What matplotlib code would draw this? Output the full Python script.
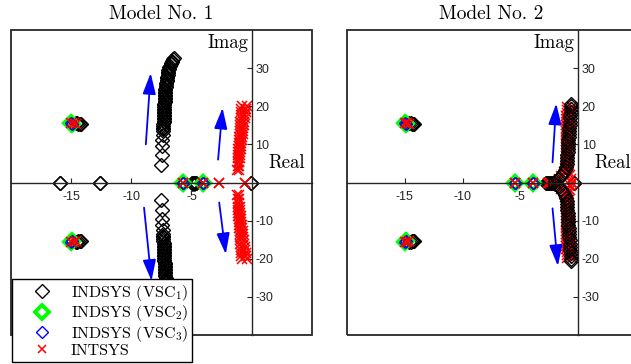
import matplotlib
matplotlib.use("Agg")
import matplotlib.pyplot as plt
from matplotlib.patches import Rectangle, FancyArrowPatch
from matplotlib.lines import Line2D

plt.rcParams['mathtext.fontset'] = 'cm'
plt.rcParams['axes.unicode_minus'] = False

# ---------------- data (upper half plane; conjugates are mirrored) ----------------
titles = ["Model No. 1", "Model No. 2"]
series_labels = [r"INDSYS (VSC$_1$)", r"INDSYS (VSC$_2$)", r"INDSYS (VSC$_3$)", "INTSYS"]
xtick_vals = [-15, -10, -5]
xtick_labels = ["-15", "-10", "-5"]
ytick_vals = [-30, -20, -10, 10, 20, 30]
ytick_labels = ["-30", "-20", "-10", "10", "20", "30"]

# ---- Model 1 ----
m1_vsc1_re = [-15.9, -12.6, -0.1, -5.0, -4.8, -4.6,
              -14.6, -14.5, -14.4, -14.3, -14.2]
m1_vsc1_im = [0, 0, 0, 0, 0, 0,
              15.5, 15.5, 15.4, 15.4, 15.3]
m1_vsc1_br_im = [4.5, 7.3, 9.5, 11.2, 12.4, 13.4, 14.0, 14.4, 14.9, 15.3, 15.8, 16.2, 16.6,
                 17.0, 17.4, 17.8, 18.2, 18.6, 19.0, 19.4, 19.8, 20.2, 20.6, 21.0, 21.4,
                 21.8, 22.2, 22.6, 23.0, 23.4, 23.8, 24.2, 24.6, 25.0, 25.4, 25.8, 26.2,
                 26.6, 27.0, 27.4, 27.8, 28.2, 28.6, 29.0, 29.4, 29.8, 30.2, 30.6, 31.0,
                 31.3, 31.7, 32.0, 32.3, 32.6]
m1_vsc1_br_re = [-7.55, -7.5, -7.45, -7.42, -7.4, -7.38, -7.37, -7.36, -7.35, -7.34, -7.33,
                 -7.32, -7.31, -7.3, -7.3, -7.29, -7.29, -7.28, -7.28, -7.27, -7.27, -7.26,
                 -7.26, -7.25, -7.25, -7.24, -7.23, -7.22, -7.21, -7.2, -7.19, -7.18, -7.17,
                 -7.15, -7.14, -7.12, -7.1, -7.08, -7.06, -7.04, -7.02, -7.0, -6.98, -6.95,
                 -6.92, -6.88, -6.84, -6.8, -6.75, -6.7, -6.65, -6.6, -6.55, -6.5]
m1_vsc2_re = [-15.0, -14.9, -5.7, -4.05]
m1_vsc2_im = [15.5, 15.4, 0, 0]
m1_vsc3_re = [-15.0, -14.9, -5.7, -4.05]
m1_vsc3_im = [15.5, 15.4, 0, 0]
m1_int_re = [-15.0, -14.8, -14.6, -5.7, -4.05, -2.75, -0.6]
m1_int_im = [15.5, 15.5, 15.4, 0, 0, 0, 0]
m1_int_br_im = [3.2, 4.4, 5.5, 6.4, 7.2, 8.0, 8.8, 9.6, 10.4, 11.2, 12.0, 12.8, 13.6, 14.4,
                15.2, 16.0, 16.8, 17.6, 18.4, 19.2, 20.0]
m1_int_brA_re = [-1.2, -1.18, -1.16, -1.15, -1.14, -1.13, -1.12, -1.1, -1.08, -1.06, -1.04,
                 -1.02, -1.0, -0.98, -0.96, -0.94, -0.92, -0.9, -0.88, -0.86, -0.84]
m1_int_brB_re = [-1.1, -1.07, -1.04, -1.01, -0.98, -0.95, -0.92, -0.89, -0.86, -0.83, -0.8,
                 -0.77, -0.74, -0.71, -0.68, -0.65, -0.6, -0.55, -0.5, -0.45, -0.4]

# ---- Model 2 ----
m2_vsc1_re = [-2.8, -2.65, -2.5, -2.35, -2.2, -0.35,
              -14.6, -14.5, -14.4, -14.3, -14.2]
m2_vsc1_im = [0, 0, 0, 0, 0, 0,
              15.5, 15.5, 15.4, 15.4, 15.3]
m2_vsc1_br_im = [0.3, 0.9, 1.6, 2.4, 3.2, 4.0, 4.8, 5.6, 6.4, 7.2, 8.0, 8.8, 9.6, 10.4,
                 11.2, 12.0, 12.8, 13.6, 14.4, 15.2, 16.0, 16.8, 17.6, 18.4, 19.2, 20.0, 20.6]
m2_vsc1_br_re = [-2.0, -1.75, -1.5, -1.3, -1.15, -1.05, -1.0, -0.98, -0.96, -0.94, -0.92,
                 -0.9, -0.88, -0.86, -0.84, -0.82, -0.8, -0.78, -0.76, -0.74, -0.72, -0.7,
                 -0.68, -0.66, -0.64, -0.62, -0.6]
m2_vsc2_re = [-15.0, -14.9, -5.5, -3.95]
m2_vsc2_im = [15.5, 15.4, 0, 0]
m2_vsc3_re = [-15.0, -14.9, -5.5, -3.95]
m2_vsc3_im = [15.5, 15.4, 0, 0]
m2_int_re = [-15.0, -14.8, -14.6, -5.5, -3.95, -2.6, -2.45, -0.5,
             -1.7, -1.45, -1.25, -0.6, -0.75, -0.9]
m2_int_im = [15.5, 15.5, 15.4, 0, 0, 0, 0, 0,
             0.8, 1.8, 2.8, 0.9, 1.9, 2.9]
m2_int_br_im = [3.8, 4.6, 5.4, 6.2, 7.0, 7.8, 8.6, 9.4, 10.2, 11.0, 11.8, 12.6, 13.4, 14.2,
                15.0, 15.8, 16.6, 17.4, 18.2, 19.0, 19.8]
m2_int_brA_re = [-1.1, -1.095, -1.09, -1.085, -1.08, -1.075, -1.07, -1.065, -1.06, -1.055,
                 -1.05, -1.045, -1.04, -1.035, -1.03, -1.025, -1.02, -1.015, -1.01, -1.0, -0.99]
m2_int_brB_re = [-0.85, -0.835, -0.82, -0.805, -0.79, -0.775, -0.76, -0.745, -0.73, -0.715,
                 -0.7, -0.685, -0.67, -0.655, -0.64, -0.625, -0.61, -0.595, -0.58, -0.565, -0.55]

# arrows: (tail_re, tail_im, head_re, head_im)
m1_arrows = [(-8.8, 10.0, -8.4, 28.7), (-2.8, 6.0, -2.43, 19.6),
             (-8.95, -6.6, -8.33, -25.8), (-2.71, -5.25, -2.16, -18.8)]
m2_arrows = [(-2.22, 5.3, -1.9, 20.7), (-2.22, -6.8, -1.76, -21.9)]

# ---------------- styles ----------------
AX_COL = '#262626'
st_vsc1 = dict(ls='none', marker='D', ms=7.6, mfc='none', mec='black', mew=1.0)
st_vsc2 = dict(ls='none', marker='D', ms=7.6, mfc='none', mec=(0, 1, 0), mew=2.8)
st_vsc3 = dict(ls='none', marker='D', ms=6.2, mfc='none', mec='blue', mew=1.0)
st_int = dict(ls='none', marker='x', ms=7.5, mec='red', mew=1.1)

fig = plt.figure(figsize=(6.31, 3.64), dpi=100)
W, H = 631, 364
ax1 = fig.add_axes([11 / W, (H - 335) / H, 301 / W, 305 / H])
ax2 = fig.add_axes([347 / W, (H - 335) / H, 289 / W, 305 / H])


def both(ax, re, im, st, z=2):
    ax.plot(re, im, zorder=z, **st)
    ax.plot(re, [-v for v in im], zorder=z, **st)


def setup(ax, title):
    ax.set_xlim(-20, 5)
    ax.set_ylim(-40, 40)
    for s in ['left', 'top']:
        ax.spines[s].set_visible(False)
    ax.spines['right'].set_position(('data', 0))
    ax.spines['bottom'].set_position(('data', 0))
    for s in ['right', 'bottom']:
        ax.spines[s].set_color(AX_COL)
        ax.spines[s].set_linewidth(1.0)
    ax.add_patch(Rectangle((0, 0), 1, 1, transform=ax.transAxes, fill=False,
                           ec=AX_COL, lw=1.3, clip_on=False, zorder=3))
    ax.yaxis.set_ticks_position('right')
    ax.xaxis.set_ticks_position('bottom')
    ax.set_xticks(xtick_vals)
    ax.set_xticklabels(xtick_labels)
    ax.set_yticks(ytick_vals)
    ax.set_yticklabels(ytick_labels)
    ax.tick_params(axis='both', direction='in', length=3.5, width=0.8, color=AX_COL,
                   labelcolor=AX_COL, labelsize=9)
    for lab in ax.get_xticklabels() + ax.get_yticklabels():
        lab.set_family('Liberation Sans')
    ax.tick_params(axis='x', pad=6.0)
    ax.tick_params(axis='y', pad=2.5)
    ax.set_title(title, family='cmr10', fontsize=14, pad=8)
    ax.text(-0.3, 36.5, 'Imag', family='cmr10', fontsize=13.5, ha='right', va='center',
            clip_on=False)
    ax.text(1.4, 5.0, 'Real', family='cmr10', fontsize=13.5, ha='left', va='center',
            clip_on=False)


def arrows(ax, arr):
    for (x0, y0, x1, y1) in arr:
        ax.add_patch(FancyArrowPatch((x0, y0), (x1, y1),
                                     arrowstyle='-|>,head_length=0.8,head_width=0.25',
                                     mutation_scale=16, color='blue', lw=1.3,
                                     shrinkA=0, shrinkB=0, zorder=4))


# Model 1
setup(ax1, titles[0])
both(ax1, m1_vsc1_re, m1_vsc1_im, st_vsc1)
both(ax1, m1_vsc1_br_re, m1_vsc1_br_im, st_vsc1)
both(ax1, m1_vsc2_re, m1_vsc2_im, st_vsc2)
both(ax1, m1_vsc3_re, m1_vsc3_im, st_vsc3)
both(ax1, m1_int_re, m1_int_im, st_int)
both(ax1, m1_int_brA_re, m1_int_br_im, st_int)
both(ax1, m1_int_brB_re, m1_int_br_im, st_int)
arrows(ax1, m1_arrows)

# Model 2
setup(ax2, titles[1])
both(ax2, m2_vsc1_re, m2_vsc1_im, st_vsc1)
both(ax2, m2_vsc2_re, m2_vsc2_im, st_vsc2)
both(ax2, m2_vsc3_re, m2_vsc3_im, st_vsc3)
both(ax2, m2_int_re, m2_int_im, st_int)
both(ax2, m2_int_brA_re, m2_int_br_im, st_int)
both(ax2, m2_int_brB_re, m2_int_br_im, st_int)
both(ax2, m2_vsc1_br_re, m2_vsc1_br_im, st_vsc1, z=2.5)
arrows(ax2, m2_arrows)

handles = [Line2D([], [], **st_vsc1), Line2D([], [], **st_vsc2),
           Line2D([], [], **st_vsc3), Line2D([], [], **dict(st_int, ms=5.5))]
leg = ax1.legend(handles, series_labels, loc='lower left',
                 bbox_to_anchor=(12 / W, 2 / H), bbox_transform=fig.transFigure,
                 prop={'family': 'cmr10', 'size': 11.5}, frameon=True, fancybox=False,
                 framealpha=1, edgecolor='black', borderpad=0.25, handlelength=3.2,
                 handletextpad=0.22, labelspacing=0.02, borderaxespad=0)
leg.get_frame().set_linewidth(1.0)
leg.set_zorder(10)

fig.savefig('out.png', dpi=100)
